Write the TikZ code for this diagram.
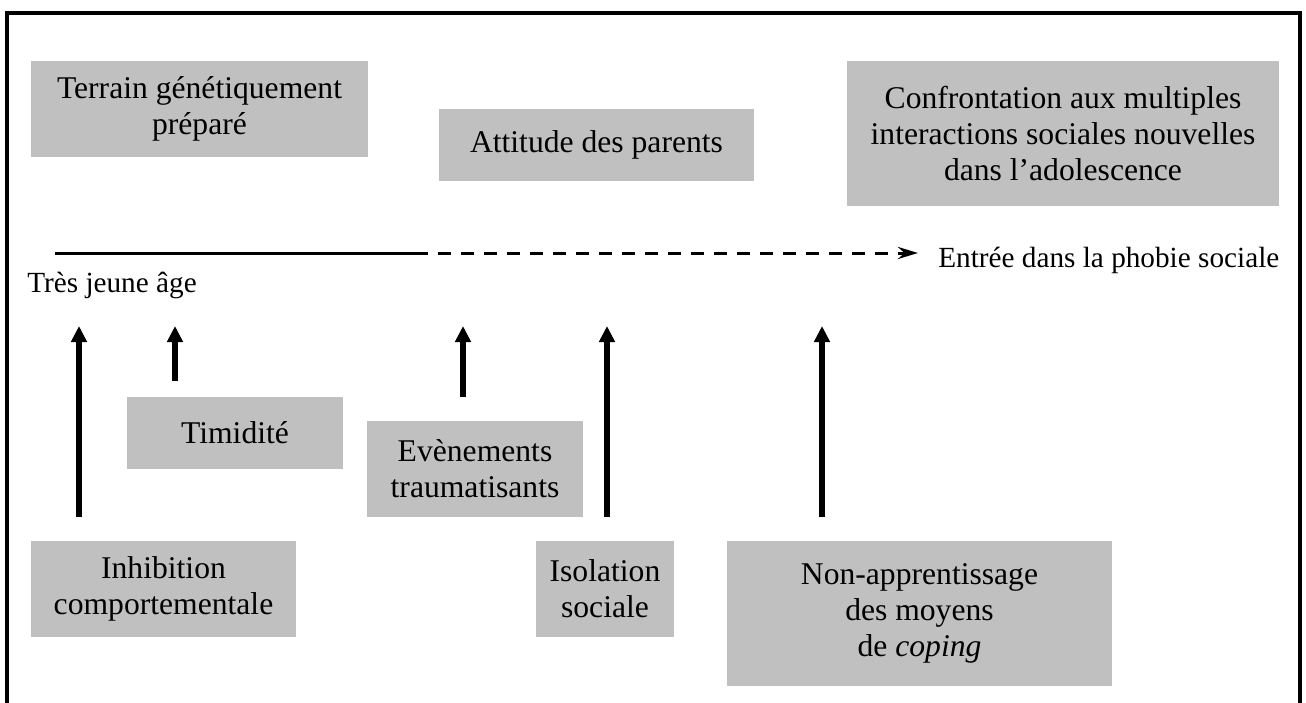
\documentclass[tikz,border=0pt]{standalone}
\usepackage{fontspec}
\setmainfont{Liberation Serif}
\usepackage{xcolor}
\usetikzlibrary{arrows.meta}
\definecolor{boxgray}{RGB}{192,192,192}
\tikzstyle{factor} = [fill=boxgray, align=center, inner sep=0pt, font=\fontsize{22.5}{25.5}\selectfont]
\tikzstyle{lbl} = [inner sep=0pt, font=\fontsize{20.8}{24}\selectfont]
\tikzstyle{push} = [line width=0.13cm, -{Triangle[length=0.4cm,width=0.38cm]}]
\tikzstyle{age} = [line width=0.075cm]

\begin{document}
\begin{tikzpicture}
    \useasboundingbox (0,0) rectangle (32.65,-17.55);
    % frame, open at the bottom
    \draw [line width=0.1cm] (0.175,-18) -- (0.175,-0.3125) -- (32.5,-0.3125) -- (32.5,-18);

    \node (terrain) [factor,minimum width=8.425cm,minimum height=2.4cm] at (4.9875,-2.725) {Terrain génétiquement\\préparé};
    \node (attitude) [factor,minimum width=7.875cm,minimum height=1.8cm] at (14.9125,-3.625) {Attitude des parents};
    \node (confront) [factor,minimum width=10.8cm,minimum height=3.625cm] at (26.575,-3.3375) {Confrontation aux multiples\\interactions sociales nouvelles\\dans l’adolescence};

    \node (timid) [factor,minimum width=5.4cm,minimum height=1.8cm] at (5.875,-10.825) {Timidité};
    \node (evene) [factor,minimum width=5.4cm,minimum height=2.4cm] at (11.875,-11.725) {Evènements\\traumatisants};
    \node (inhib) [factor,minimum width=6.625cm,minimum height=2.4cm] at (4.0875,-14.725) {Inhibition\\comportementale};
    \node (isol) [factor,minimum width=3.45cm,minimum height=2.4cm] at (15.125,-14.725) {Isolation\\sociale};
    \node (nonapp) [factor,minimum width=9.625cm,minimum height=3.625cm] at (22.9875,-15.3375) {Non-apprentissage\\des moyens\\de \textit{coping}};

    % time line
    \node (jeune) [lbl,anchor=base west] at (0.675,-7.3) {Très jeune âge};
    \node (entree) [lbl,anchor=base west] at (23.45,-6.675) {Entrée dans la phobie sociale};
    \coordinate (tl0) at (1.375,-6.325);
    \coordinate (tl1) at (10.7,-6.325);
    \draw [age] (tl0) -- (tl1);
    \draw [age,dash pattern=on 0.325cm off 0.25cm,shorten >=0.5cm,-{Stealth[length=0.5cm,width=0.3cm]}] ([xshift=0.25cm]tl1) -- (tl1 -| entree.west);

    % arrows up to the time line
    \coordinate (t1) at (1.975,-8.15);
    \coordinate (t2) at (4.375,-8.15);
    \coordinate (t3) at (11.575,-8.15);
    \coordinate (t4) at (15.175,-8.15);
    \coordinate (t5) at (20.55,-8.15);
    \draw [push,shorten <=0.6cm] (inhib.north -| t1) -- (t1);
    \draw [push,shorten <=0.4cm] (timid.north -| t2) -- (t2);
    \draw [push,shorten <=0.6cm] (evene.north -| t3) -- (t3);
    \draw [push,shorten <=0.6cm] (isol.north -| t4) -- (t4);
    \draw [push,shorten <=0.6cm] (nonapp.north -| t5) -- (t5);

  \end{tikzpicture}
\end{document}
